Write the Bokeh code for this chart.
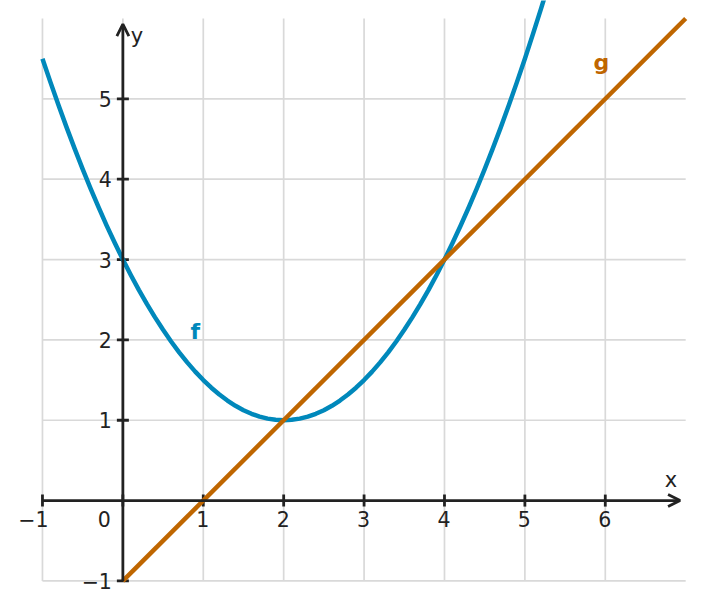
from bokeh.plotting import figure
from bokeh.models import Arrow, OpenHead, ColumnDataSource
from bokeh.core.properties import value
from bokeh.embed import file_html
from bokeh.resources import INLINE

# Data
f_x = [-1.0, -0.9, -0.8, -0.7, -0.6, -0.5, -0.4, -0.3, -0.2, -0.1,
       0.0, 0.1, 0.2, 0.3, 0.4, 0.5, 0.6, 0.7, 0.8, 0.9,
       1.0, 1.1, 1.2, 1.3, 1.4, 1.5, 1.6, 1.7, 1.8, 1.9,
       2.0, 2.1, 2.2, 2.3, 2.4, 2.5, 2.6, 2.7, 2.8, 2.9,
       3.0, 3.1, 3.2, 3.3, 3.4, 3.5, 3.6, 3.7, 3.8, 3.9,
       4.0, 4.1, 4.2, 4.3, 4.4, 4.5, 4.6, 4.7, 4.8, 4.9,
       5.0, 5.1, 5.2, 5.3]
f_y = [5.5, 5.205, 4.92, 4.645, 4.38, 4.125, 3.88, 3.645, 3.42, 3.205,
       3.0, 2.805, 2.62, 2.445, 2.28, 2.125, 1.98, 1.845, 1.72, 1.605,
       1.5, 1.405, 1.32, 1.245, 1.18, 1.125, 1.08, 1.045, 1.02, 1.005,
       1.0, 1.005, 1.02, 1.045, 1.08, 1.125, 1.18, 1.245, 1.32, 1.405,
       1.5, 1.605, 1.72, 1.845, 1.98, 2.125, 2.28, 2.445, 2.62, 2.805,
       3.0, 3.205, 3.42, 3.645, 3.88, 4.125, 4.38, 4.645, 4.92, 5.205,
       5.5, 5.805, 6.12, 6.445]
g_x = [0, 7]
g_y = [-1, 6]

x_ticks = [-1, 1, 2, 3, 4, 5, 6]
x_tick_labels = ["\u22121", "1", "2", "3", "4", "5", "6"]
y_ticks = [-1, 1, 2, 3, 4, 5]
y_tick_labels = ["\u22121", "1", "2", "3", "4", "5"]
x_grid = [-1, 0, 1, 2, 3, 4, 5, 6]
y_grid = [-1, 1, 2, 3, 4, 5]

F_COLOR = "#0088bb"
G_COLOR = "#bf6600"
AXIS_COLOR = "#222222"
GRID_COLOR = "#d9d9d9"
FONT = "DejaVu Sans"
TICK_SIZE = "20.5px"

p = figure(width=695, height=601, x_range=(-1.522, 7.122), y_range=(-1.256, 6.224),
           x_axis_type=None, y_axis_type=None, toolbar_location=None,
           output_backend="svg", min_border=0)
p.outline_line_color = None
p.xgrid.visible = False
p.ygrid.visible = False

# grid
p.segment(x0=x_grid, y0=-1, x1=x_grid, y1=6, line_color=GRID_COLOR, line_width=1.7)
p.segment(x0=-1, y0=y_grid, x1=7, y1=y_grid, line_color=GRID_COLOR, line_width=1.7)

# axes with arrows
p.add_layout(Arrow(end=OpenHead(size=12, line_width=2.8, line_color=AXIS_COLOR),
                   x_start=-1, y_start=0, x_end=6.93, y_end=0,
                   line_width=2.8, line_color=AXIS_COLOR))
p.add_layout(Arrow(end=OpenHead(size=12, line_width=2.8, line_color=AXIS_COLOR),
                   x_start=0, y_start=-1, x_end=0, y_end=5.93,
                   line_width=2.8, line_color=AXIS_COLOR))

# tick marks
p.scatter(x_ticks + [0], 0, marker="dash", size=12, angle=1.5708,
          line_color=AXIS_COLOR, line_width=2.8)
p.scatter(0, y_ticks, marker="dash", size=12,
          line_color=AXIS_COLOR, line_width=2.8)

# tick labels
xs = ColumnDataSource(dict(x=x_ticks, y=[0] * len(x_ticks), t=x_tick_labels))
p.text("x", "y", "t", source=xs, text_align="right", text_baseline="alphabetic",
       x_offset=6, y_offset=18, text_font=value(FONT), text_font_size=TICK_SIZE,
       text_color=AXIS_COLOR)
p.text([0], [0], ["0"], text_align="right", text_baseline="alphabetic",
       x_offset=-12, y_offset=18, text_font=value(FONT), text_font_size=TICK_SIZE,
       text_color=AXIS_COLOR)
ys = ColumnDataSource(dict(x=[0] * len(y_ticks), y=y_ticks, t=y_tick_labels))
p.text("x", "y", "t", source=ys, text_align="right", text_baseline="middle",
       x_offset=-11, y_offset=0, text_font=value(FONT), text_font_size=TICK_SIZE,
       text_color=AXIS_COLOR)

# axis names
p.text([6.93], [0], ["x"], text_align="center", text_baseline="alphabetic",
       x_offset=-9, y_offset=-21, text_font=value(FONT), text_font_size="21px",
       text_color=AXIS_COLOR)
p.text([0], [5.93], ["y"], text_align="left", text_baseline="alphabetic",
       x_offset=8, y_offset=12, text_font=value(FONT), text_font_size="21px",
       text_color=AXIS_COLOR)

# functions
p.line(f_x, f_y, line_color=F_COLOR, line_width=4.5, line_join="round")
p.line(g_x, g_y, line_color=G_COLOR, line_width=4.5)

p.text([0.9], [2.1], ["f"], text_align="center", text_baseline="middle",
       text_font=value(FONT), text_font_style="bold", text_font_size="22px",
       text_color=F_COLOR)
p.text([5.95], [5.45], ["g"], text_align="center", text_baseline="middle",
       text_font=value(FONT), text_font_style="bold", text_font_size="22px",
       text_color=G_COLOR)

open("out.html", "w").write(file_html(p, INLINE))
